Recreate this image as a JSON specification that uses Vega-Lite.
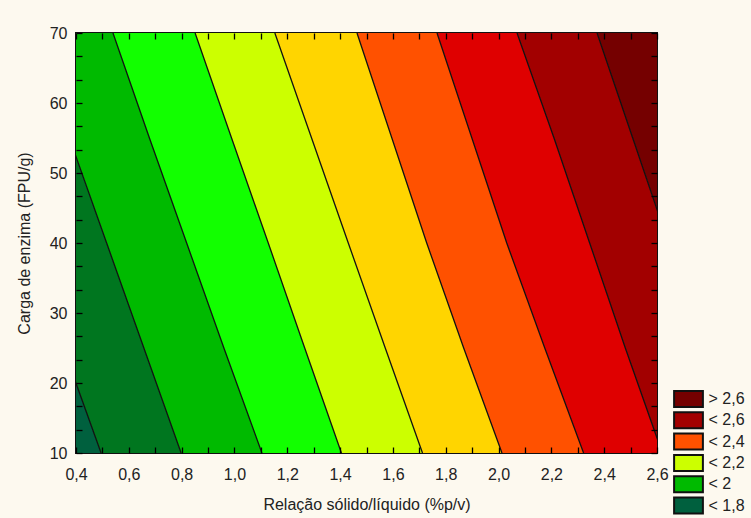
{
  "$schema": "https://vega.github.io/schema/vega-lite/v6.json",
  "width": 581,
  "height": 420,
  "autosize": "none",
  "padding": {"left": 76, "top": 33, "right": 94, "bottom": 65},
  "background": "#fdf9ef",
  "config": {"view": {"stroke": "#111", "strokeWidth": 2}, "font": "Liberation Sans"},
  "data": {"values": [
    {"band": "< 1,8", "y": 70, "x0": 0.4, "x1": -0.075},
    {"band": "< 1,8", "y": 55, "x0": 0.4, "x1": 0.067},
    {"band": "< 1,8", "y": 40, "x0": 0.4, "x1": 0.21},
    {"band": "< 1,8", "y": 25, "x0": 0.4, "x1": 0.352},
    {"band": "< 1,8", "y": 10, "x0": 0.4, "x1": 0.495},
    {"band": "< 1,9", "y": 70, "x0": -0.075, "x1": 0.234},
    {"band": "< 1,9", "y": 55, "x0": 0.067, "x1": 0.375},
    {"band": "< 1,9", "y": 40, "x0": 0.21, "x1": 0.516},
    {"band": "< 1,9", "y": 25, "x0": 0.352, "x1": 0.657},
    {"band": "< 1,9", "y": 10, "x0": 0.495, "x1": 0.798},
    {"band": "< 2", "y": 70, "x0": 0.234, "x1": 0.54},
    {"band": "< 2", "y": 55, "x0": 0.375, "x1": 0.678},
    {"band": "< 2", "y": 40, "x0": 0.516, "x1": 0.819},
    {"band": "< 2", "y": 25, "x0": 0.657, "x1": 0.96},
    {"band": "< 2", "y": 10, "x0": 0.798, "x1": 1.104},
    {"band": "< 2,1", "y": 70, "x0": 0.54, "x1": 0.851},
    {"band": "< 2,1", "y": 55, "x0": 0.678, "x1": 0.989},
    {"band": "< 2,1", "y": 40, "x0": 0.819, "x1": 1.128},
    {"band": "< 2,1", "y": 25, "x0": 0.96, "x1": 1.266},
    {"band": "< 2,1", "y": 10, "x0": 1.104, "x1": 1.405},
    {"band": "< 2,2", "y": 70, "x0": 0.851, "x1": 1.153},
    {"band": "< 2,2", "y": 55, "x0": 0.989, "x1": 1.292},
    {"band": "< 2,2", "y": 40, "x0": 1.128, "x1": 1.431},
    {"band": "< 2,2", "y": 25, "x0": 1.266, "x1": 1.571},
    {"band": "< 2,2", "y": 10, "x0": 1.405, "x1": 1.712},
    {"band": "< 2,3", "y": 70, "x0": 1.153, "x1": 1.464},
    {"band": "< 2,3", "y": 55, "x0": 1.292, "x1": 1.596},
    {"band": "< 2,3", "y": 40, "x0": 1.431, "x1": 1.728},
    {"band": "< 2,3", "y": 25, "x0": 1.571, "x1": 1.868},
    {"band": "< 2,3", "y": 10, "x0": 1.712, "x1": 2.013},
    {"band": "< 2,4", "y": 70, "x0": 1.464, "x1": 1.767},
    {"band": "< 2,4", "y": 55, "x0": 1.596, "x1": 1.899},
    {"band": "< 2,4", "y": 40, "x0": 1.728, "x1": 2.031},
    {"band": "< 2,4", "y": 25, "x0": 1.868, "x1": 2.175},
    {"band": "< 2,4", "y": 10, "x0": 2.013, "x1": 2.322},
    {"band": "< 2,5", "y": 70, "x0": 1.767, "x1": 2.07},
    {"band": "< 2,5", "y": 55, "x0": 1.899, "x1": 2.21},
    {"band": "< 2,5", "y": 40, "x0": 2.031, "x1": 2.345},
    {"band": "< 2,5", "y": 25, "x0": 2.175, "x1": 2.48},
    {"band": "< 2,5", "y": 10, "x0": 2.322, "x1": 2.62},
    {"band": "< 2,6", "y": 70, "x0": 2.07, "x1": 2.373},
    {"band": "< 2,6", "y": 55, "x0": 2.21, "x1": 2.508},
    {"band": "< 2,6", "y": 40, "x0": 2.345, "x1": 2.643},
    {"band": "< 2,6", "y": 25, "x0": 2.48, "x1": 2.78},
    {"band": "< 2,6", "y": 10, "x0": 2.62, "x1": 2.92},
    {"band": "> 2,6", "y": 70, "x0": 2.373, "x1": 2.6},
    {"band": "> 2,6", "y": 55, "x0": 2.508, "x1": 2.6},
    {"band": "> 2,6", "y": 40, "x0": 2.643, "x1": 2.6},
    {"band": "> 2,6", "y": 25, "x0": 2.78, "x1": 2.6},
    {"band": "> 2,6", "y": 10, "x0": 2.92, "x1": 2.6}
  ]},
  "layer": [
    {
      "mark": {"type": "area", "orient": "horizontal", "clip": true, "opacity": 1},
      "encoding": {
        "y": {
          "field": "y", "type": "quantitative",
          "scale": {"domain": [10, 70], "nice": false, "zero": false},
          "axis": {
            "orient": "left", "zindex": 2, "offset": -6,
            "values": [10, 13.333, 16.667, 20, 23.333, 26.667, 30, 33.333, 36.667, 40, 43.333, 46.667, 50, 53.333, 56.667, 60, 63.333, 66.667, 70],
            "labelExpr": "abs(datum.value - round(datum.value / 10) * 10) < 0.01 ? format(datum.value, 'd') : ''",
            "labelOverlap": false, "labelFlush": false,
            "tickSize": 6, "tickColor": "#000", "tickWidth": 1.3,
            "labelPadding": 9, "labelFontSize": 16, "labelColor": "#222",
            "domain": false, "grid": false,
            "title": "Carga de enzima (FPU/g)", "titleFontSize": 16, "titleFontWeight": "normal", "titleColor": "#222", "titlePadding": 17
          }
        },
        "x": {
          "field": "x0", "type": "quantitative",
          "scale": {"domain": [0.4, 2.6], "nice": false, "zero": false},
          "axis": {
            "orient": "bottom", "zindex": 2, "offset": -6,
            "values": [0.4, 0.5, 0.6, 0.7, 0.8, 0.9, 1.0, 1.1, 1.2, 1.3, 1.4, 1.5, 1.6, 1.7, 1.8, 1.9, 2.0, 2.1, 2.2, 2.3, 2.4, 2.5, 2.6],
            "labelExpr": "abs(datum.value * 5 - round(datum.value * 5)) < 0.01 ? replace(format(datum.value, '.1f'), '.', ',') : ''",
            "labelOverlap": false, "labelFlush": false,
            "tickSize": 6, "tickColor": "#000", "tickWidth": 1.3,
            "labelPadding": 13, "labelFontSize": 16, "labelColor": "#222",
            "domain": false, "grid": false,
            "title": "Relação sólido/líquido (%p/v)", "titleFontSize": 16, "titleFontWeight": "normal", "titleColor": "#222", "titlePadding": 14
          }
        },
        "x2": {"field": "x1"},
        "color": {
          "field": "band", "type": "nominal",
          "scale": {
            "domain": ["> 2,6", "< 2,6", "< 2,5", "< 2,4", "< 2,3", "< 2,2", "< 2,1", "< 2", "< 1,9", "< 1,8"],
            "range": ["#750000", "#a20000", "#df0000", "#ff5100", "#ffd500", "#ccff00", "#12ff00", "#00ba00", "#00761f", "#00603e"]
          },
          "legend": {
            "orient": "none", "legendX": 603.5, "legendY": 357,
            "title": null, "padding": 0,
            "values": ["> 2,6", "< 2,6", "< 2,4", "< 2,2", "< 2", "< 1,8"],
            "symbolType": "M-1.8,-1H1.8V1H-1.8Z", "symbolSize": 256,
            "symbolStrokeColor": "#111", "symbolStrokeWidth": 2, "symbolOpacity": 1,
            "labelFont": "Liberation Sans", "labelFontSize": 16, "labelColor": "#222",
            "labelOffset": 11, "rowPadding": -2.7
          }
        }
      }
    },
    {
      "transform": [{"filter": "datum.band != '> 2,6'"}],
      "mark": {"type": "line", "clip": true, "color": "#111", "strokeWidth": 1.3},
      "encoding": {
        "y": {
          "field": "y", "type": "quantitative",
          "axis": {
            "orient": "right", "zindex": 2, "labels": false, "title": null, "offset": -6,
            "values": [10, 13.333, 16.667, 20, 23.333, 26.667, 30, 33.333, 36.667, 40, 43.333, 46.667, 50, 53.333, 56.667, 60, 63.333, 66.667, 70],
            "tickSize": 6, "tickColor": "#000", "tickWidth": 1.3,
            "domain": false, "grid": false
          }
        },
        "x": {
          "field": "x1", "type": "quantitative",
          "axis": {
            "orient": "top", "zindex": 2, "labels": false, "title": null, "offset": -6,
            "values": [0.4, 0.5, 0.6, 0.7, 0.8, 0.9, 1.0, 1.1, 1.2, 1.3, 1.4, 1.5, 1.6, 1.7, 1.8, 1.9, 2.0, 2.1, 2.2, 2.3, 2.4, 2.5, 2.6],
            "tickSize": 6, "tickColor": "#000", "tickWidth": 1.3,
            "domain": false, "grid": false
          }
        },
        "detail": {"field": "band", "type": "nominal"},
        "order": {"field": "y", "type": "quantitative"}
      }
    }
  ],
  "resolve": {"axis": {"x": "independent", "y": "independent"}}
}
